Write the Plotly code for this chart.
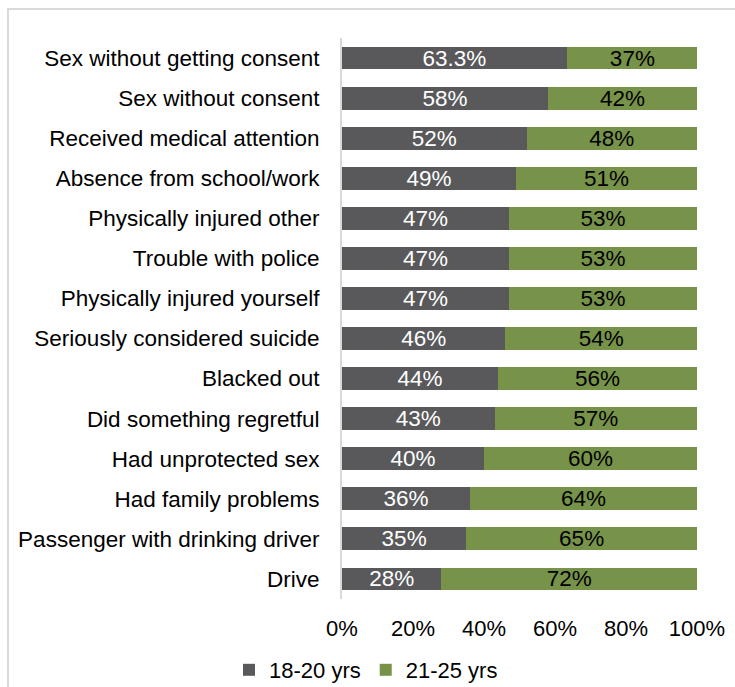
import plotly.graph_objects as go

# Survey items (top to bottom) and share of each age group
categories = [
    "Sex without getting consent",
    "Sex without consent",
    "Received medical attention",
    "Absence from school/work",
    "Physically injured other",
    "Trouble with police",
    "Physically injured yourself",
    "Seriously considered suicide",
    "Blacked out",
    "Did something regretful",
    "Had unprotected sex",
    "Had family problems",
    "Passenger with drinking driver",
    "Drive",
]
age_18_20 = [63.3, 58, 52, 49, 47, 47, 47, 46, 44, 43, 40, 36, 35, 28]
age_21_25 = [37, 42, 48, 51, 53, 53, 53, 54, 56, 57, 60, 64, 65, 72]
x_ticks = [0, 20, 40, 60, 80, 100]
x_tick_labels = ["0%", "20%", "40%", "60%", "80%", "100%"]

FONT = "Liberation Sans"
GRAY = "#59595b"
GREEN = "#77934a"
BAR_TEXT = 22.5

fig = go.Figure()
fig.add_trace(go.Bar(
    y=categories, x=age_18_20, name="18-20 yrs", orientation="h",
    marker=dict(color=GRAY, line=dict(width=0)),
    text=[f"{v:g}%" for v in age_18_20], textposition="inside",
    insidetextanchor="middle", textangle=0,
    textfont=dict(family=FONT, size=BAR_TEXT, color="white"),
))
fig.add_trace(go.Bar(
    y=categories, x=age_21_25, name="21-25 yrs", orientation="h",
    marker=dict(color=GREEN, line=dict(width=0)),
    text=[f"{v:g}%" for v in age_21_25], textposition="inside",
    insidetextanchor="middle", textangle=0,
    textfont=dict(family=FONT, size=BAR_TEXT, color="black"),
))

W, H = 735, 687
ml, mr, mt, mb = 342, 38, 38, 88
pw, ph = W - ml - mr, H - mt - mb

def px_x(p):
    return (p - ml) / pw

def px_y(p):
    return 1 - (p - mt) / ph

fig.update_layout(
    width=W, height=H,
    margin=dict(l=ml, r=mr, t=mt, b=mb, pad=0, autoexpand=False),
    barmode="stack", bargap=0.43,
    paper_bgcolor="white", plot_bgcolor="white",
    font=dict(family=FONT, size=22, color="black"),
    uniformtext=dict(minsize=BAR_TEXT, mode="show"),
    xaxis=dict(
        range=[0, 100], tickvals=x_ticks, ticktext=x_tick_labels,
        showgrid=False, zeroline=False, showline=False, ticks="",
        tickfont=dict(family=FONT, size=22, color="black"),
        ticklabelstandoff=14, fixedrange=True, automargin=False,
    ),
    yaxis=dict(
        autorange="reversed", showgrid=False, zeroline=False,
        showline=True, linecolor="#d9d9d9", linewidth=2, ticks="",
        tickfont=dict(family=FONT, size=22.5, color="black"),
        ticklabelstandoff=16, automargin=False,
    ),
    legend=dict(
        orientation="h", x=px_x(366), xanchor="center",
        y=px_y(670), yanchor="middle",
        font=dict(family=FONT, size=22, color="black"),
        itemwidth=30, traceorder="normal", bgcolor="rgba(0,0,0,0)",
    ),
    shapes=[dict(
        type="rect", xref="paper", yref="paper",
        x0=px_x(8), x1=px_x(760), y0=px_y(720), y1=px_y(9),
        line=dict(color="#d9d9d9", width=2), fillcolor="rgba(0,0,0,0)",
        layer="below",
    )],
)

fig.write_html("out.html")
